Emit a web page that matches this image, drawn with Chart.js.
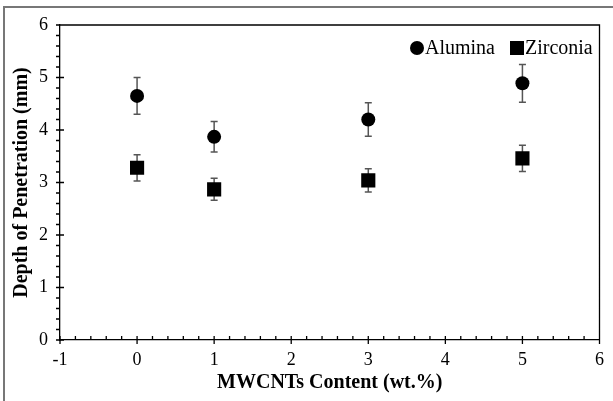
<!DOCTYPE html>
<html>
<head>
<meta charset="utf-8">
<script src="https://cdn.jsdelivr.net/npm/chart.js@4"></script>
<style>
  html, body { margin: 0; padding: 0; background: #fff; }
  #wrap { width: 613px; height: 401px; position: relative; }
</style>
</head>
<body>
<div id="wrap"><canvas id="chart" width="613" height="401"></canvas></div>
<script>
// MWCNTs content (wt.%)
const contents = [0, 1, 3, 5];

// depth of penetration (mm) and error (+/-)
const aluminaDepth = [4.65, 3.87, 4.20, 4.89];
const aluminaErr = [0.35, 0.29, 0.32, 0.36];
const zirconiaDepth = [3.28, 2.87, 3.04, 3.46];
const zirconiaErr = [0.25, 0.21, 0.22, 0.25];

const xTicks = [-1, 0, 1, 2, 3, 4, 5, 6];
const yTicks = [0, 1, 2, 3, 4, 5, 6];

const SERIF = "'Liberation Serif', 'Times New Roman', serif";

function toPoints(xs, ys, errs) {
    return xs.map((x, i) => ({ x: x, y: ys[i], err: errs[i] }));
}

// error bars, tick marks, frame, legend
const decorPlugin = {
    id: 'decor',
    beforeDatasetsDraw(chart) {
        const ctx = chart.ctx;
        const xs = chart.scales.x;
        const ys = chart.scales.y;
        ctx.save();
        ctx.strokeStyle = '#555';
        ctx.lineWidth = 1.5;
        chart.data.datasets.forEach(ds => {
            ds.data.forEach(p => {
                const px = xs.getPixelForValue(p.x);
                const top = ys.getPixelForValue(p.y + p.err);
                const bot = ys.getPixelForValue(p.y - p.err);
                ctx.beginPath();
                ctx.moveTo(px, top); ctx.lineTo(px, bot);
                ctx.moveTo(px - 3.5, top); ctx.lineTo(px + 3.5, top);
                ctx.moveTo(px - 3.5, bot); ctx.lineTo(px + 3.5, bot);
                ctx.stroke();
            });
        });
        ctx.restore();
    },
    afterDraw(chart) {
        const ctx = chart.ctx;
        const a = chart.chartArea;
        const xs = chart.scales.x;
        const ys = chart.scales.y;
        ctx.save();
        ctx.strokeStyle = '#000';
        ctx.lineWidth = 1.3;
        ctx.beginPath();
        // top and right frame
        ctx.moveTo(a.left, a.top); ctx.lineTo(a.right, a.top); ctx.lineTo(a.right, a.bottom);
        // x ticks
        for (let v = -1; v <= 6.001; v += 0.2) {
            const px = xs.getPixelForValue(v);
            const major = Math.abs(v - Math.round(v)) < 1e-6;
            if (major) { ctx.moveTo(px, a.bottom - 4); ctx.lineTo(px, a.bottom + 4); }
            else { ctx.moveTo(px, a.bottom); ctx.lineTo(px, a.bottom - 4); }
        }
        // y ticks
        for (let v = 0; v <= 6.001; v += 0.2) {
            const py = ys.getPixelForValue(v);
            const major = Math.abs(v - Math.round(v)) < 1e-6;
            if (major) { ctx.moveTo(a.left - 4, py); ctx.lineTo(a.left + 4, py); }
            else { ctx.moveTo(a.left, py); ctx.lineTo(a.left - 4, py); }
        }
        ctx.stroke();

        // outer picture border (left and top only)
        ctx.strokeStyle = '#777';
        ctx.lineWidth = 2;
        ctx.beginPath();
        ctx.moveTo(4, chart.height); ctx.lineTo(4, 7); ctx.lineTo(chart.width, 7);
        ctx.stroke();

        // legend, top right inside the plot
        ctx.fillStyle = '#000';
        ctx.font = '20px ' + SERIF;
        ctx.textBaseline = 'middle';
        ctx.textAlign = 'left';
        const ly = a.top + 23;
        ctx.beginPath();
        ctx.arc(417, ly, 7, 0, Math.PI * 2);
        ctx.fill();
        ctx.fillText(chart.data.datasets[0].label, 425, ly + 1);
        ctx.fillRect(510, ly - 7, 14, 14);
        ctx.fillText(chart.data.datasets[1].label, 525, ly + 1);
        ctx.restore();
    }
};

new Chart(document.getElementById('chart'), {
    type: 'scatter',
    data: {
        datasets: [
            {
                label: 'Alumina',
                data: toPoints(contents, aluminaDepth, aluminaErr),
                pointStyle: 'circle',
                pointRadius: 7,
                pointHoverRadius: 7,
                backgroundColor: '#000',
                borderColor: '#000',
                borderWidth: 0
            },
            {
                label: 'Zirconia',
                data: toPoints(contents, zirconiaDepth, zirconiaErr),
                pointStyle: 'rect',
                pointRadius: 10,
                pointHoverRadius: 10,
                backgroundColor: '#000',
                borderColor: '#000',
                borderWidth: 0
            }
        ]
    },
    options: {
        responsive: false,
        animation: false,
        layout: { padding: { left: 0, right: 6, top: 25, bottom: 0 } },
        plugins: {
            legend: { display: false },
            tooltip: { enabled: false }
        },
        scales: {
            x: {
                type: 'linear',
                min: -1,
                max: 6,
                afterBuildTicks: (scale) => { scale.ticks = xTicks.map(v => ({ value: v })); },
                afterFit: (scale) => { scale.height = 61; },
                grid: { display: false, drawTicks: false },
                border: { display: true, color: '#000', width: 1.3 },
                ticks: {
                    color: '#000',
                    font: { family: SERIF, size: 18 },
                    padding: 9,
                    maxRotation: 0
                },
                title: {
                    display: true,
                    text: 'MWCNTs Content (wt.%)',
                    color: '#000',
                    font: { family: SERIF, size: 20, weight: 'bold' },
                    padding: { top: 4, bottom: 6 }
                }
            },
            y: {
                type: 'linear',
                min: 0,
                max: 6,
                afterBuildTicks: (scale) => { scale.ticks = yTicks.map(v => ({ value: v })); },
                afterFit: (scale) => { scale.width = 60; },
                grid: { display: false, drawTicks: false },
                border: { display: true, color: '#000', width: 1.3 },
                ticks: {
                    color: '#000',
                    font: { family: SERIF, size: 18 },
                    padding: 12
                },
                title: {
                    display: true,
                    text: 'Depth of Penetration (mm)',
                    color: '#000',
                    font: { family: SERIF, size: 20, weight: 'bold' },
                    padding: { top: 10, bottom: 0 }
                }
            }
        }
    },
    plugins: [decorPlugin]
});
</script>
</body>
</html>
